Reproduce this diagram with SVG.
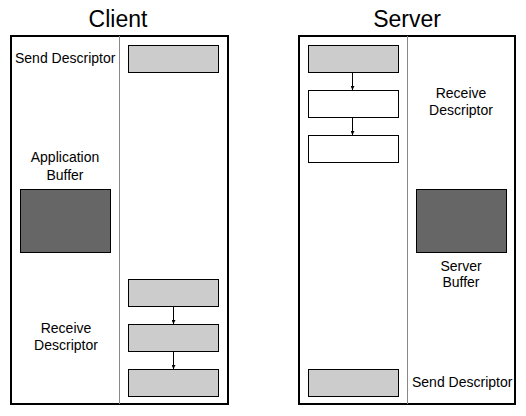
<svg xmlns="http://www.w3.org/2000/svg" width="526" height="416" viewBox="0 0 526 416">
<style>
text{font-family:"Liberation Sans",Arial,sans-serif;fill:#000}
.t{font-size:23px;text-anchor:middle}
.l{font-size:14px}
.c{text-anchor:middle}
.frame{fill:#fff;stroke:#000;stroke-width:2}
.div{stroke:#888;stroke-width:1}
.g{fill:#ccc;stroke:#000;stroke-width:1}
.w{fill:#fff;stroke:#000;stroke-width:1}
.d{fill:#666;stroke:#000;stroke-width:1}
.a{stroke:#000;stroke-width:1;fill:none;marker-end:url(#ah)}
</style>
<defs>
<marker id="ah" viewBox="0 0 4 4" refX="4" refY="2" markerWidth="4" markerHeight="4" markerUnits="userSpaceOnUse" orient="auto">
<path d="M0,0 L4,2 L0,4 Z" fill="#000"/>
</marker>
</defs>
<rect width="526" height="416" fill="#fff"/>
<g id="client">
<text class="t" x="118" y="27">Client</text>
<rect class="frame" x="11" y="36" width="217" height="368"/>
<line class="div" x1="119.5" y1="36" x2="119.5" y2="404"/>
</g>
<g id="server">
<text class="t" x="407" y="27">Server</text>
<rect class="frame" x="299" y="36" width="216" height="368"/>
<line class="div" x1="407.5" y1="36" x2="407.5" y2="404"/>
</g>
<g id="client-send-descriptor">
<text class="l" x="15" y="63">Send Descriptor</text>
<rect class="g" x="128.5" y="45.5" width="90" height="27"/>
</g>
<g id="application-buffer">
<text class="l c" x="65" y="162">Application</text>
<text class="l c" x="65" y="180">Buffer</text>
<rect class="d" x="20.5" y="189.5" width="90" height="63"/>
</g>
<g id="client-receive-descriptor">
<text class="l c" x="66" y="333">Receive</text>
<text class="l c" x="66" y="350">Descriptor</text>
<rect class="g" x="128.5" y="279.5" width="90" height="27"/>
<rect class="g" x="128.5" y="324.5" width="90" height="27"/>
<rect class="g" x="128.5" y="369.5" width="90" height="27"/>
</g>
<g id="server-receive-descriptor">
<rect class="g" x="308.5" y="45.5" width="90" height="27"/>
<rect class="w" x="308.5" y="90.5" width="90" height="27"/>
<rect class="w" x="308.5" y="135.5" width="90" height="27"/>
<text class="l c" x="461" y="98">Receive</text>
<text class="l c" x="461" y="115">Descriptor</text>
</g>
<g id="server-buffer">
<rect class="d" x="416.5" y="189.5" width="90" height="63"/>
<text class="l c" x="461" y="271">Server</text>
<text class="l c" x="461" y="287">Buffer</text>
</g>
<g id="server-send-descriptor">
<rect class="g" x="308.5" y="369.5" width="90" height="27"/>
<text class="l" x="412" y="387">Send Descriptor</text>
</g>
<g id="connectors">
<line class="a" x1="173.5" y1="307" x2="173.5" y2="324"/>
<line class="a" x1="173.5" y1="352" x2="173.5" y2="369"/>
<line class="a" x1="352.5" y1="73" x2="352.5" y2="90"/>
<line class="a" x1="352.5" y1="118" x2="352.5" y2="135"/>
</g>
</svg>
